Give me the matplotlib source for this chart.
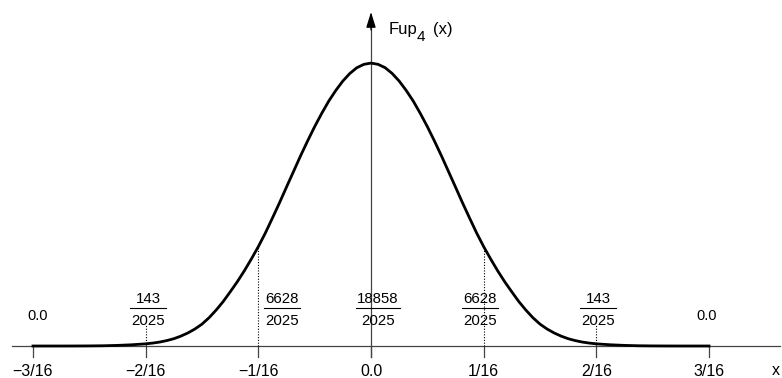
import matplotlib.pyplot as plt

plt.rcParams['font.family'] = ['Liberation Sans', 'DejaVu Sans']

# x in units of 1/16, values of Fup4
x16 = [-3.0, -2.875, -2.75, -2.625, -2.5, -2.375, -2.25, -2.125, -2.0,
       -1.9375, -1.875, -1.8125, -1.75, -1.6875, -1.625, -1.5625, -1.5,
       -1.4375, -1.375, -1.3125, -1.25, -1.1875, -1.125, -1.0625, -1.0,
       -0.9375, -0.875, -0.8125, -0.75, -0.6875, -0.625, -0.5625, -0.5,
       -0.4375, -0.375, -0.3125, -0.25, -0.1875, -0.125, -0.0625, 0.0,
       0.0625, 0.125, 0.1875, 0.25, 0.3125, 0.375, 0.4375, 0.5,
       0.5625, 0.625, 0.6875, 0.75, 0.8125, 0.875, 0.9375, 1.0,
       1.0625, 1.125, 1.1875, 1.25, 1.3125, 1.375, 1.4375, 1.5,
       1.5625, 1.625, 1.6875, 1.75, 1.8125, 1.875, 1.9375, 2.0,
       2.125, 2.25, 2.375, 2.5, 2.625, 2.75, 2.875, 3.0]
fup = [0.0, 0.0, 0.0, 0.001, 0.003, 0.008, 0.02, 0.04, 0.071,
       0.096, 0.13, 0.178, 0.24, 0.325, 0.43, 0.56, 0.72,
       0.93, 1.18, 1.46, 1.78, 2.11, 2.47, 2.86, 3.27,
       3.72, 4.21, 4.71, 5.23, 5.745, 6.26, 6.75, 7.22,
       7.655, 8.06, 8.41, 8.72, 8.97, 9.16, 9.27, 9.31,
       9.27, 9.16, 8.97, 8.72, 8.41, 8.06, 7.655, 7.22,
       6.75, 6.26, 5.745, 5.23, 4.71, 4.21, 3.72, 3.27,
       2.86, 2.47, 2.11, 1.78, 1.46, 1.18, 0.93, 0.72,
       0.56, 0.43, 0.325, 0.24, 0.178, 0.13, 0.096, 0.071,
       0.04, 0.02, 0.008, 0.003, 0.001, 0.0, 0.0, 0.0]

tick_pos = [-3, -2, -1, 0, 1, 2, 3]
tick_labels = ['\u22123/16', '\u22122/16', '\u22121/16', '0.0', '1/16', '2/16', '3/16']

frac_num = ['143', '6628', '18858', '6628', '143']
frac_den = ['2025', '2025', '2025', '2025', '2025']
zero_labels = ['0.0', '0.0']

# px -> data helpers (figure is 782x378, baseline at y=346, x=0 at px 371)
sx = 112.67
sy = 0.03291
def X(px):
    return (px - 371) / sx
def Y(py):
    return (346 - py) * sy

fig = plt.figure(figsize=(7.82, 3.78), dpi=100)
ax = fig.add_axes([0, 0, 1, 1])
ax.set_xlim(X(0), X(782))
ax.set_ylim(Y(378), Y(0))
ax.axis('off')

axc = '#444444'
arrow = dict(arrowstyle='-|>,head_length=0.94,head_width=0.29',
             color='black', lw=0.9, mutation_scale=10, shrinkA=0, shrinkB=0)
# x axis with arrow
ax.plot([X(12), X(780)], [0, 0], color=axc, lw=0.9, zorder=1)
ax.annotate('', xy=(X(791), 0), xytext=(X(770), 0), arrowprops=arrow)
# y axis with arrow
ax.plot([0, 0], [Y(357), Y(25)], color=axc, lw=0.9, zorder=1)
ax.annotate('', xy=(0, Y(12)), xytext=(0, Y(30)), arrowprops=arrow)

# ticks + labels
for p, lab in zip(tick_pos, tick_labels):
    ax.plot([p, p], [0, Y(357)], color=axc, lw=0.9, zorder=1)
    ax.text(p, Y(376), lab, ha='center', va='baseline', fontsize=11.5)

# dotted guides
for p, top in zip([-2, -1, 1, 2], [Y(325), 3.27, 3.27, Y(325)]):
    ax.plot([p, p], [0, top], color='black', lw=0.8, ls=(0, (1, 1.5)), zorder=1)

# curve
ax.plot(x16, fup, color='black', lw=2.0, solid_joinstyle='round', zorder=3)

# fractions
frac_x = [X(148), X(282), X(378), X(480), X(598)]
for cx, n, d in zip(frac_x, frac_num, frac_den):
    ax.text(cx, Y(303), n, ha='center', va='baseline', fontsize=10.8, zorder=4)
    ax.text(cx, Y(325), d, ha='center', va='baseline', fontsize=10.8, zorder=4)
    w = (36.7 if len(n) < 5 else 44.7) / sx
    ax.plot([cx - w / 2, cx + w / 2], [Y(308.3), Y(308.3)], color='black', lw=0.8)

for cx, lab in zip([X(38), X(707)], zero_labels):
    ax.text(cx, Y(320.5), lab, ha='center', va='baseline', fontsize=10.5)

# axis titles
ax.text(X(389), Y(34.3), 'Fup', ha='left', va='baseline', fontsize=12)
ax.text(X(417), Y(40.7), '4', ha='left', va='baseline', fontsize=11)
ax.text(X(433), Y(34.3), '(x)', ha='left', va='baseline', fontsize=12)
ax.text(X(772), Y(375), 'x', ha='left', va='baseline', fontsize=11.5)

fig.savefig('out.png', dpi=100)
